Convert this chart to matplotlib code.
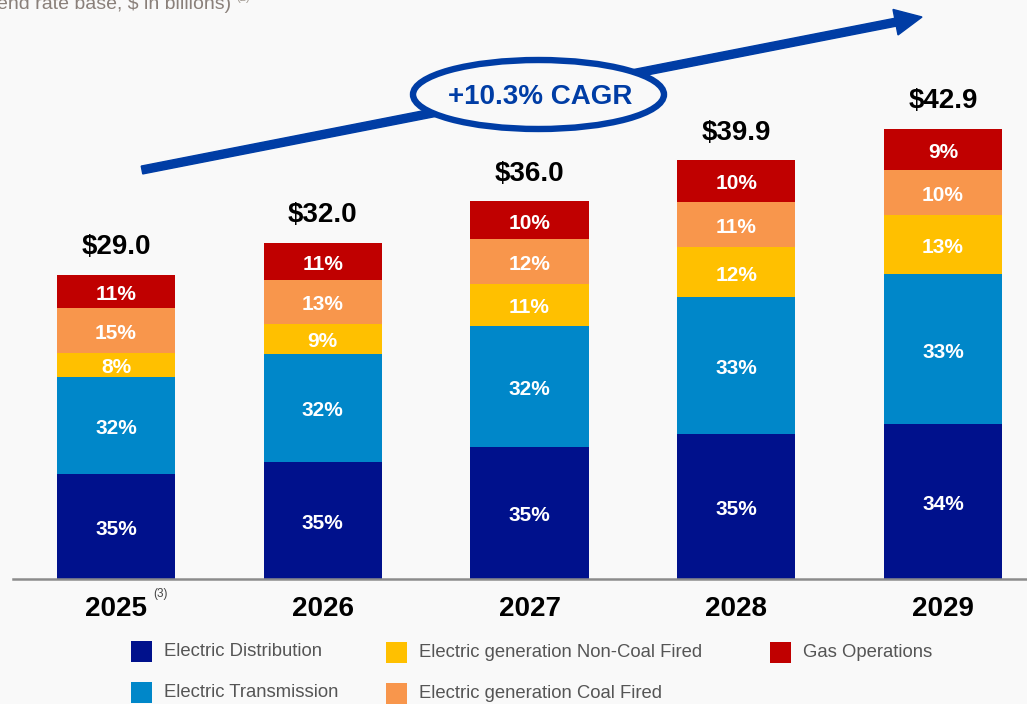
import matplotlib
matplotlib.use("Agg")
import matplotlib.pyplot as plt
from matplotlib.patches import FancyArrow, Ellipse, Rectangle
from matplotlib.transforms import Affine2D
import numpy as np

plt.rcParams['font.family'] = ['Liberation Sans', 'DejaVu Sans']

# ---- data ----
years = ["2025", "2026", "2027", "2028", "2029"]
totals = [29.0, 32.0, 36.0, 39.9, 42.9]
series = ["Electric Distribution", "Electric Transmission",
          "Electric generation Non-Coal Fired", "Electric generation Coal Fired",
          "Gas Operations"]
pct_distribution = [35, 35, 35, 35, 34]
pct_transmission = [32, 32, 32, 33, 33]
pct_noncoal = [8, 9, 11, 12, 13]
pct_coal = [15, 13, 12, 11, 10]
pct_gas = [11, 11, 10, 10, 9]
colors = ["#00118C", "#0087C9", "#FFC000", "#F8964C", "#C00000"]
cagr_text = "+10.3% CAGR"

W, H = 1027, 704
BG = "#F9F9F9"
fig = plt.figure(figsize=(W / 100, H / 100), dpi=100, facecolor=BG)
# pixel transform (x from left, y from top)
pix = Affine2D().scale(1 / 100, -1 / 100).translate(0, H / 100) + fig.dpi_scale_trans

ax = fig.add_axes([13 / W, (H - 579) / H, (W - 13) / W, 579 / H])
ax.set_facecolor("none")

pcts = np.array([pct_distribution, pct_transmission, pct_noncoal, pct_coal, pct_gas], dtype=float)
tot = np.array(totals)
vals = pcts / pcts.sum(axis=0) * tot

x = np.arange(len(years))
bottom = np.zeros(len(years))
for i in range(len(series)):
    ax.bar(x, vals[i], bottom=bottom, width=0.571, color=colors[i], zorder=2)
    for j in range(len(years)):
        ax.annotate(f"{int(pcts[i][j])}%", (x[j], bottom[j] + vals[i][j] / 2),
                    xytext=(0, -2), textcoords="offset points",
                    ha="center", va="center", color="white", fontsize=15,
                    fontweight="bold", zorder=3)
    bottom += vals[i]

for j in range(len(years)):
    ax.annotate(f"${totals[j]:.1f}", (x[j], tot[j]), xytext=(0, 15),
                textcoords="offset points", ha="center", va="baseline",
                fontsize=20, fontweight="bold", color="black")

ax.set_xlim(-0.498, 4.406)
ax.set_ylim(0, 579 / 10.49)
for s in ["top", "left", "right"]:
    ax.spines[s].set_visible(False)
ax.spines["bottom"].set_color("#8C8C8C")
ax.spines["bottom"].set_linewidth(1.8)
ax.set_yticks([])
ax.set_xticks(x)
ax.set_xticklabels(years, fontsize=20, fontweight="bold", color="black")
ax.tick_params(axis="x", length=0, pad=12)

# superscript for 2025
fig.text(160 / W, 1 - 594 / H, "(3)", fontsize=8.5, color="#444444",
         ha="center", va="center")

# top cut-off subtitle
fig.text(-3 / W, 1 - 9 / H, "end rate base, $ in billions)", fontsize=14,
         color="#8A807A", ha="left", va="baseline")
fig.text(236 / W, 1 - 1 / H, "(2)", fontsize=8, color="#A09890",
         ha="left", va="baseline")

# growth arrow
arrow_color = "#003DA5"
x0, y0, x1, y1 = 142, 170, 922, 17
arr = FancyArrow(x0, y0, x1 - x0, y1 - y0, width=8, head_width=26, head_length=27,
                 length_includes_head=True, color=arrow_color, transform=pix,
                 clip_on=False, zorder=4)
fig.add_artist(arr)
ell = Ellipse((538.5, 94.5), 251, 69, facecolor=BG, edgecolor=arrow_color,
              linewidth=4.6, transform=pix, clip_on=False, zorder=5)
fig.add_artist(ell)
fig.text(540 / W, 1 - 97 / H, cagr_text, fontsize=20, fontweight="bold",
         color=arrow_color, ha="center", va="center", zorder=6)

# legend (manual)
leg_pos = [(131, 641), (131, 682), (386, 642), (386, 683), (770, 642)]
for i, name in enumerate(series):
    lx, ly = leg_pos[i]
    fig.add_artist(Rectangle((lx, ly), 21, 21, facecolor=colors[i], edgecolor="none",
                             transform=pix, clip_on=False))
    fig.text((lx + 33) / W, 1 - (ly + 10.5) / H, name, fontsize=13.3,
             color="#555555", ha="left", va="center")

fig.savefig("out.png", dpi=100, facecolor=BG)
